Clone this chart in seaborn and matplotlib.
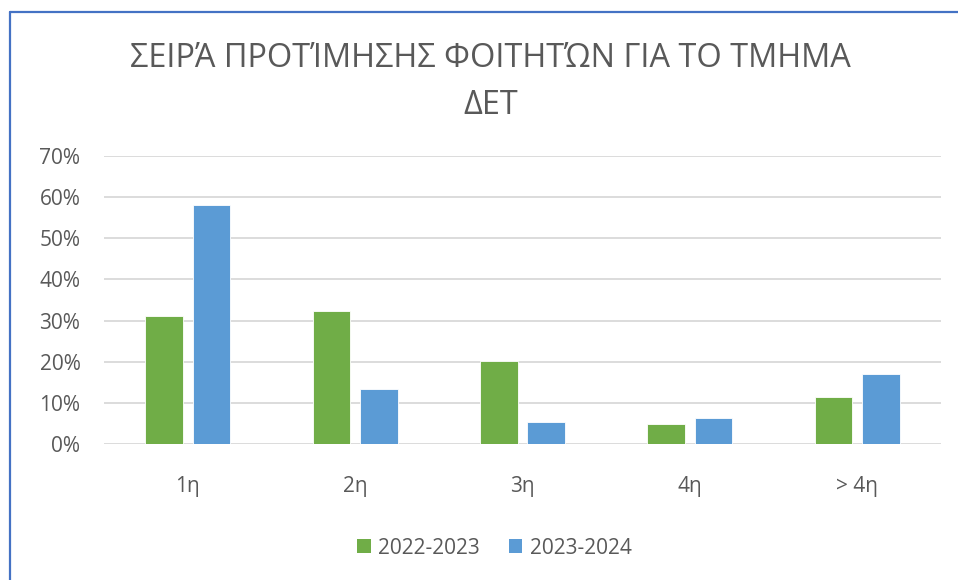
import matplotlib
matplotlib.use("Agg")
import matplotlib.pyplot as plt
import seaborn as sns
import pandas as pd
from matplotlib.lines import Line2D
from matplotlib.patches import Patch

categories = ["1η", "2η", "3η", "4η", "> 4η"]
series_names = ["2022-2023", "2023-2024"]
values_2022 = [31.0, 32.3, 20.2, 4.9, 11.4]
values_2023 = [58.0, 13.4, 5.4, 6.3, 17.0]
y_ticks = [0, 10, 20, 30, 40, 50, 60, 70]
title_text = "ΣΕΙΡΆ ΠΡΟΤΊΜΗΣΗΣ ΦΟΙΤΗΤΏΝ ΓΙΑ ΤΟ ΤΜΗΜΑ\nΔΕΤ"

df = pd.DataFrame({
    "cat": categories * 2,
    "year": [series_names[0]] * len(categories) + [series_names[1]] * len(categories),
    "val": values_2022 + values_2023,
})

sns.set_theme(style="white")
plt.rcParams["font.family"] = ["Open Sans", "DejaVu Sans"]

TXT = "#595959"
palette = {series_names[0]: "#70AD47", series_names[1]: "#5B9BD5"}

fig = plt.figure(figsize=(9.58, 5.8), dpi=100)
ax = fig.add_axes([104 / 958, 1 - 444 / 580, (941 - 104) / 958, (444 - 156) / 580])

sns.barplot(data=df, x="cat", y="val", hue="year", order=categories,
            hue_order=series_names, palette=palette, width=0.567, gap=0.21,
            saturation=1, ax=ax, legend=False, edgecolor="white", linewidth=0.6)

ax.set_xlim(-0.5, len(categories) - 0.5)
ax.set_ylim(0, 70)
ax.set_yticks(y_ticks)
ax.set_yticklabels([f"{t}%" for t in y_ticks])
ax.yaxis.grid(True, color="#D9D9D9", linewidth=1.3)
ax.set_axisbelow(True)
for s in ax.spines.values():
    s.set_visible(False)
ax.set_xlabel("")
ax.set_ylabel("")
ax.tick_params(axis="y", length=0, pad=17, labelsize=15, labelcolor=TXT)
ax.tick_params(axis="x", length=0, pad=23, labelsize=15, labelcolor=TXT)

fig.text(0.512, 1 - 82 / 580, title_text, ha="center", va="center", fontsize=23.4,
         color=TXT, linespacing=1.57, fontweight="normal")

handles = [Patch(facecolor=palette[n], edgecolor="none") for n in series_names]
fig.legend(handles, series_names, loc="center", bbox_to_anchor=(0.516, 1 - 548 / 580),
           ncol=2, frameon=False, fontsize=15, labelcolor=TXT,
           handlelength=0.65, handleheight=0.65, handletextpad=0.35, columnspacing=1.4)

fig.add_artist(Line2D([10 / 958, 10 / 958], [0, 1 - 12 / 580], transform=fig.transFigure,
                      color="#4472C4", linewidth=1.6))
fig.add_artist(Line2D([10 / 958, 1], [1 - 12 / 580, 1 - 12 / 580], transform=fig.transFigure,
                      color="#4472C4", linewidth=1.6))

fig.savefig("out.png", dpi=100, facecolor="white")
